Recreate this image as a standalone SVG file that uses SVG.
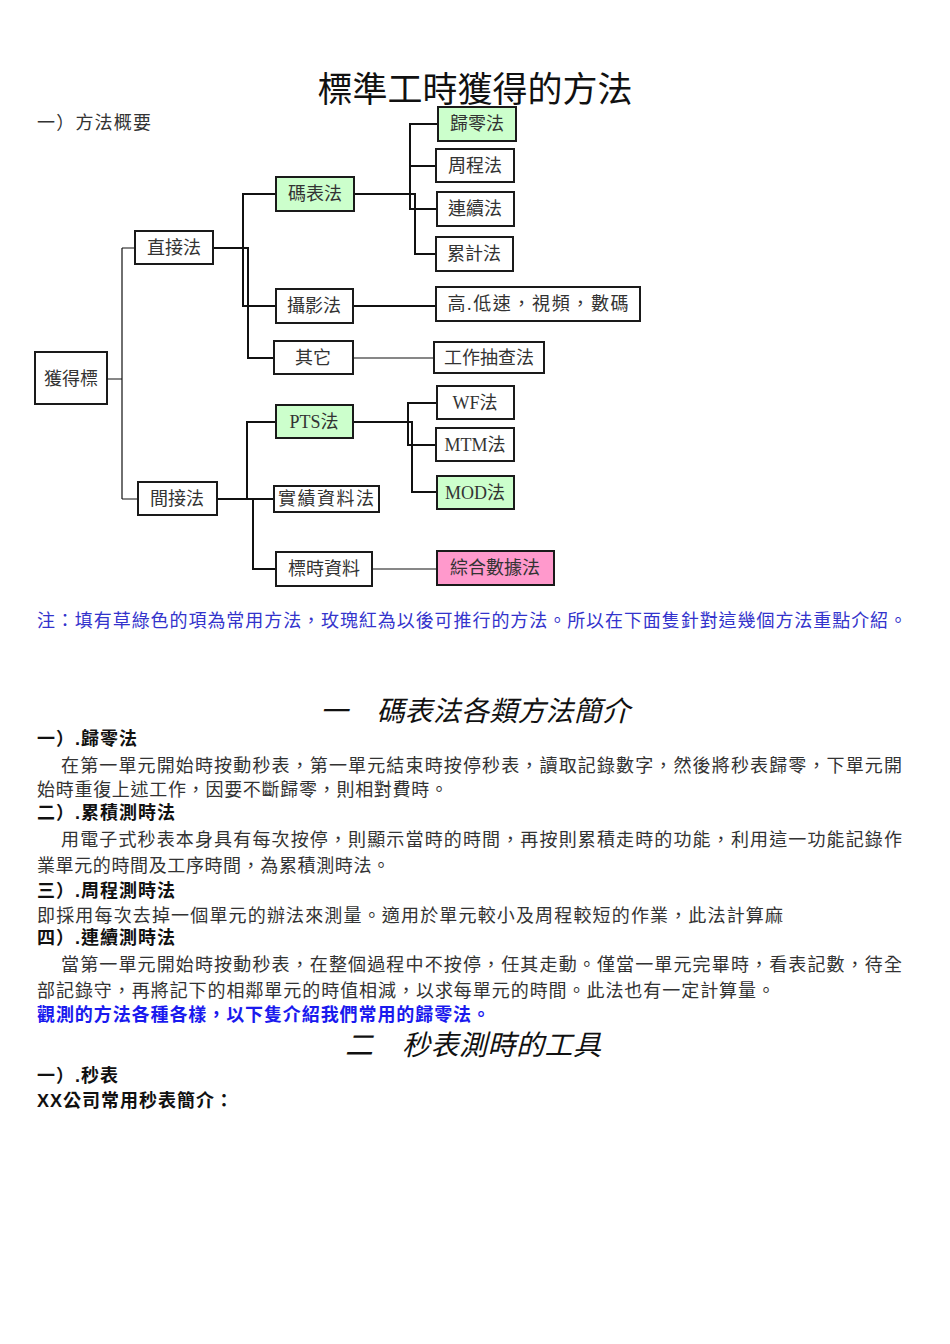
<svg xmlns="http://www.w3.org/2000/svg" width="950" height="1344" viewBox="0 0 950 1344">
<style>
.bg{fill:#ffffff}
.box{fill:#ffffff;stroke:#1a1a1a;stroke-width:2}
.green{fill:#ccffcc}
.pink{fill:#ff99cc}
.nt{font-family:'Liberation Serif','Noto Sans CJK TC',serif;font-size:18px;fill:#333333;text-anchor:middle}
.ln{fill:none;stroke:#111111;stroke-width:2}
.thin{fill:none;stroke:#111111;stroke-width:1.2}
.title{font-family:'Liberation Sans','Noto Sans CJK TC',sans-serif;font-size:35px;fill:#111111;text-anchor:middle}
.body{font-family:'Liberation Serif','Noto Sans CJK TC',serif;font-size:18px;fill:#333333}
.hd{font-family:'Liberation Sans','Noto Sans CJK TC',sans-serif;font-size:18px;font-weight:bold;fill:#111111;letter-spacing:1px}
.sec{font-family:'Liberation Sans','Noto Sans CJK TC',sans-serif;font-size:28px;font-style:italic;fill:#111111}
.note{font-family:'Liberation Serif','Noto Sans CJK TC',serif;font-size:18px;fill:#3333cc}
.blue{font-family:'Liberation Sans','Noto Sans CJK TC',sans-serif;font-size:18px;font-weight:bold;fill:#1a1aee}
</style>
<rect class="bg" x="0" y="0" width="950" height="1344"/>

<text class="title" x="475" y="102">標準工時獲得的方法</text>
<text class="body" x="37" y="129" textLength="114" lengthAdjust="spacing">一）方法概要</text>

<g id="connectors">
  <path class="thin" d="M107,379 H122 M122,248 V499 M122,248 H135 M122,499 H138"/>
  <path class="ln" d="M213,248 H248 V358 H274"/>
  <path class="ln" d="M276,194 H243 V306 H276"/>
  <path class="ln" d="M354,194 H415 V254 H436"/>
  <path class="ln" d="M438,124 H410 V209 H437 M410,166 H436"/>
  <path class="ln" d="M353,306 H436"/>
  <path class="thin" d="M353,358 H434"/>
  <path class="ln" d="M217,499 H274"/>
  <path class="ln" d="M276,422 H247 V499"/>
  <path class="ln" d="M253,499 V569 H276"/>
  <path class="ln" d="M353,422 H412 V492 H437"/>
  <path class="ln" d="M437,403 H408 V445 H436"/>
  <path class="thin" d="M372,569 H437"/>
</g>

<g id="n-huodebiao"><rect class="box" x="35" y="352" width="72" height="52"/><text class="nt" x="71" y="385">獲得標</text></g>
<g id="n-zhijiefa"><rect class="box" x="135" y="231" width="78" height="33"/><text class="nt" x="174" y="254">直接法</text></g>
<g id="n-jianjiefa"><rect class="box" x="138" y="482" width="79" height="33"/><text class="nt" x="177" y="505">間接法</text></g>
<g id="n-mabiaofa"><rect class="box green" x="276" y="177" width="78" height="34"/><text class="nt" x="315" y="200">碼表法</text></g>
<g id="n-sheyingfa"><rect class="box" x="276" y="289" width="77" height="34"/><text class="nt" x="314" y="312">攝影法</text></g>
<g id="n-qita"><rect class="box" x="274" y="341" width="79" height="33"/><text class="nt" x="313" y="364">其它</text></g>
<g id="n-pts"><rect class="box green" x="276" y="405" width="77" height="33"/><text class="nt" x="314" y="428">PTS法</text></g>
<g id="n-shiji"><rect class="box" x="274" y="486" width="105" height="26"/><text class="nt" x="326" y="505" textLength="96" lengthAdjust="spacing">實績資料法</text></g>
<g id="n-biaoshi"><rect class="box" x="276" y="552" width="96" height="34"/><text class="nt" x="324" y="575">標時資料</text></g>
<g id="n-guiling"><rect class="box green" x="438" y="107" width="78" height="34"/><text class="nt" x="477" y="130">歸零法</text></g>
<g id="n-zhoucheng"><rect class="box" x="436" y="149" width="78" height="33"/><text class="nt" x="475" y="172">周程法</text></g>
<g id="n-lianxu"><rect class="box" x="437" y="192" width="77" height="34"/><text class="nt" x="475" y="215">連續法</text></g>
<g id="n-leiji"><rect class="box" x="436" y="237" width="77" height="34"/><text class="nt" x="474" y="260">累計法</text></g>
<g id="n-gaodi"><rect class="box" x="436" y="287" width="204" height="34"/><text class="nt" x="538" y="310" textLength="181" lengthAdjust="spacing">高.低速，視頻，數碼</text></g>
<g id="n-gongzuo"><rect class="box" x="434" y="342" width="110" height="31"/><text class="nt" x="489" y="364">工作抽查法</text></g>
<g id="n-wf"><rect class="box" x="437" y="386" width="77" height="33"/><text class="nt" x="475" y="409">WF法</text></g>
<g id="n-mtm"><rect class="box" x="436" y="428" width="78" height="33"/><text class="nt" x="475" y="451">MTM法</text></g>
<g id="n-mod"><rect class="box green" x="437" y="476" width="77" height="33"/><text class="nt" x="475" y="499">MOD法</text></g>
<g id="n-zonghe"><rect class="box pink" x="437" y="551" width="117" height="34"/><text class="nt" x="495" y="574">綜合數據法</text></g>

<text class="note" x="37" y="627" textLength="870" lengthAdjust="spacing">注：填有草綠色的項為常用方法，玫瑰紅為以後可推行的方法。所以在下面隻針對這幾個方法重點介紹。</text>

<text class="sec" x="320" y="721" textLength="310" lengthAdjust="spacing">一　碼表法各類方法簡介</text>

<text class="hd" x="37" y="745">一）.歸零法</text>
<text class="body" x="61" y="772" textLength="841" lengthAdjust="spacing">在第一單元開始時按動秒表，第一單元結束時按停秒表，讀取記錄數字，然後將秒表歸零，下單元開</text>
<text class="body" x="37" y="796" textLength="411" lengthAdjust="spacing">始時重復上述工作，因要不斷歸零，則相對費時。</text>
<text class="hd" x="37" y="819">二）.累積測時法</text>
<text class="body" x="61" y="846" textLength="841" lengthAdjust="spacing">用電子式秒表本身具有每次按停，則顯示當時的時間，再按則累積走時的功能，利用這一功能記錄作</text>
<text class="body" x="37" y="872" textLength="353" lengthAdjust="spacing">業單元的時間及工序時間，為累積測時法。</text>
<text class="hd" x="37" y="897">三）.周程測時法</text>
<text class="body" x="37" y="922" textLength="746" lengthAdjust="spacing">即採用每次去掉一個單元的辦法來測量。適用於單元較小及周程較短的作業，此法計算麻</text>
<text class="hd" x="37" y="944">四）.連續測時法</text>
<text class="body" x="61" y="971" textLength="841" lengthAdjust="spacing">當第一單元開始時按動秒表，在整個過程中不按停，任其走動。僅當一單元完畢時，看表記數，待全</text>
<text class="body" x="37" y="997" textLength="738" lengthAdjust="spacing">部記錄守，再將記下的相鄰單元的時值相減，以求每單元的時間。此法也有一定計算量。</text>
<text class="blue" x="37" y="1021" textLength="453" lengthAdjust="spacing">觀測的方法各種各樣，以下隻介紹我們常用的歸零法。</text>

<text class="sec" x="345" y="1055" textLength="256" lengthAdjust="spacing">二　秒表測時的工具</text>
<text class="hd" x="37" y="1082">一）.秒表</text>
<text class="hd" x="37" y="1107">XX公司常用秒表簡介：</text>
</svg>
